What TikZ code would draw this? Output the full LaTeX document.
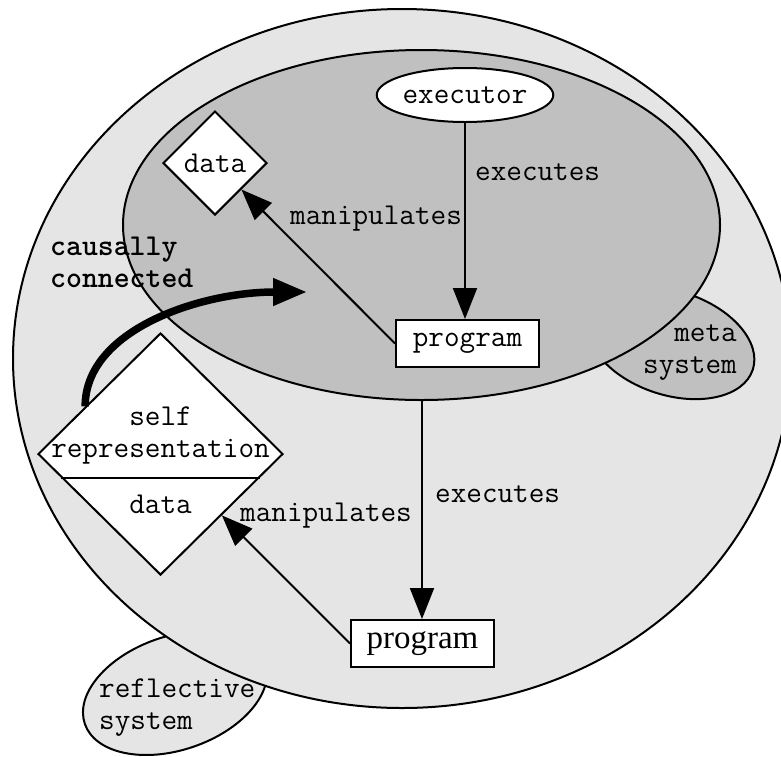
\documentclass[tikz,border=0pt]{standalone}
\usepackage{fontspec}
\setmainfont{Liberation Serif}
\usetikzlibrary{shapes.geometric,arrows.meta,calc}
\definecolor{lightg}{RGB}{229,229,229}
\definecolor{midg}{RGB}{192,192,192}
\newcommand\mytxt{\ttfamily\fontsize{30.3}{32}\selectfont}
\newcommand\mybold{\ttfamily\bfseries\fontsize{30.3}{32}\selectfont}
\begin{document}
\begin{tikzpicture}[x=1pt,y=-1pt,
  bord/.style={draw=black,line width=2pt},
  lbl/.style={font=\mytxt,inner sep=0pt},
  boxnode/.style={bord,fill=white,rectangle,minimum width=143pt,minimum height=47pt,inner sep=0pt},
  diam/.style={bord,fill=white,diamond,inner sep=0pt},
  arr/.style={line width=2pt,-{Triangle[length=31pt,width=24pt]}},
  bigarr/.style={line width=7.5pt,-{Triangle[length=34pt,width=26pt]}}
]
\useasboundingbox (0,0) rectangle (781,756);
\clip (0,0) rectangle (781,756);
% reflective system ellipse (behind)
\draw[bord,fill=lightg,rotate around={18.9:(175,693)}] (175,693) ellipse [x radius=95.3pt, y radius=56.8pt];
% outer ellipse
\draw[bord,fill=lightg] (402,358.5) ellipse [x radius=389pt, y radius=349.5pt];
% meta system ellipse (behind inner)
\draw[bord,fill=midg,rotate around={-18:(671,343)}] (671,343) ellipse [x radius=86pt, y radius=52pt];
% inner ellipse
\draw[bord,fill=midg] (421.5,225) ellipse [x radius=298.5pt, y radius=175pt];

% nodes
\node[bord,fill=white,ellipse,minimum width=154pt,minimum height=54pt,inner sep=0pt,font=\mytxt] (exec) at (465,95) {executor};
\node[boxnode,font=\mytxt] (prog) at (467.5,343.5) {program};
\node[diam,minimum width=104pt,minimum height=104pt,font=\mytxt] (datad) at (215,163) {data};
\node[diam,minimum width=245pt,minimum height=242pt] (selfd) at (160.5,454) {};
\node[boxnode,font=\fontsize{33}{36}\selectfont] (prog2) at (422.5,643.5) {program};
\coordinate (top2) at (422,400);
\coordinate (cc) at (307,292);

% divider in self representation diamond
\draw[line width=2pt] ($(selfd.west)!0.198!(selfd.south)$) -- ($(selfd.east)!0.198!(selfd.south)$);

% connectors
\draw[arr] (exec.south) -- (exec.south |- prog.north);
\draw[arr] (prog.west) -- (datad);
\draw[arr] (top2) -- (top2 |- prog2.north);
\draw[arr] (prog2.west) -- (selfd);
\draw[bigarr] ($(selfd.west)!0.39!(selfd.north)$) .. controls (85,330) and (200,292) .. (cc);

% labels
\node[lbl,anchor=base west] (lexec1) at (475,180) {executes};
\node[lbl,anchor=base west] (lman1) at (290,224) {manipulates};
\node[lbl,anchor=base west] (lexec2) at (435,502) {executes};
\node[lbl,anchor=base west] (lman2) at (240,521) {manipulates};
\node[inner sep=0pt,font=\mybold,align=left,anchor=base west] (lcc) at (50,287) {causally\\connected};
\node[lbl,anchor=base] (lself) at (160.5,425) {self};
\node[lbl,anchor=base] (lrep) at (160.5,457) {representation};
\node[lbl,anchor=base] (ldata2) at (160.5,513) {data};
\node[lbl,align=right,anchor=base east] (lmeta) at (737,373) {meta\\system};
\node[lbl,align=left,anchor=base west] (lrefl) at (99,729) {reflective\\system};
\end{tikzpicture}
\end{document}
